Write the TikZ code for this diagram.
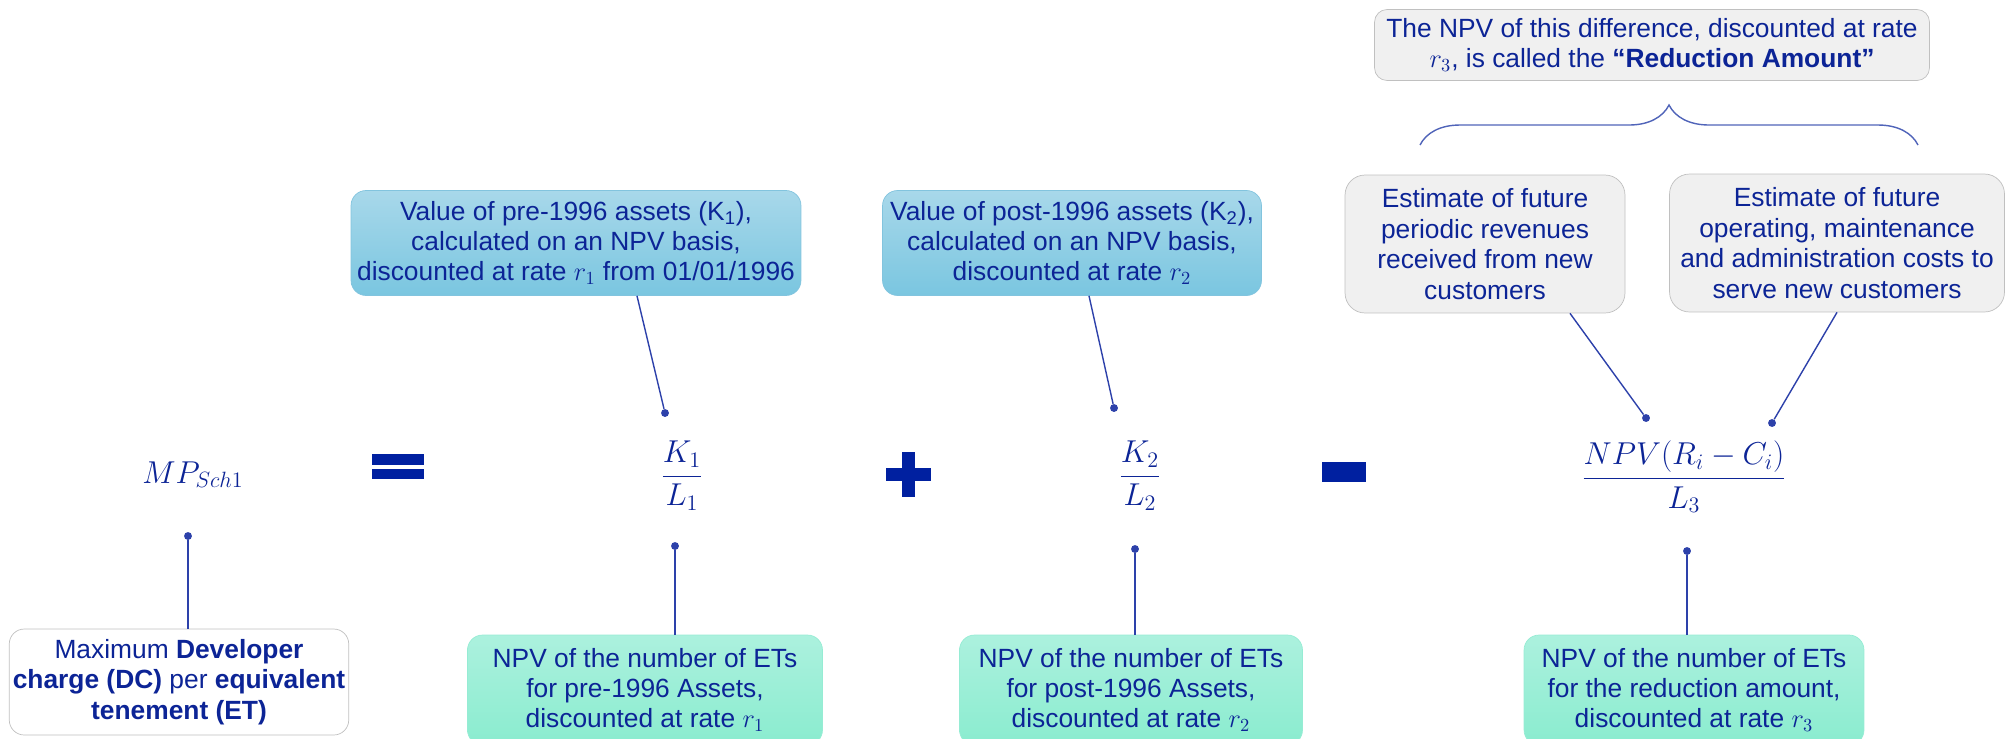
\RequirePackage{fix-cm}
\documentclass[tikz,border=0pt]{standalone}
\usepackage[no-math]{fontspec}
\setmainfont{Liberation Sans}
\usetikzlibrary{decorations.pathreplacing}

\begin{document}
\begin{tikzpicture}[x=0.02cm, y=-0.02cm]

\definecolor{ink}{RGB}{12,36,150}
\definecolor{signcol}{RGB}{0,32,160}
\definecolor{linkcol}{RGB}{45,65,170}
\definecolor{bracecol}{RGB}{80,100,185}
\definecolor{bluetop}{RGB}{168,216,234}
\definecolor{bluebot}{RGB}{122,198,224}
\definecolor{blueedge}{RGB}{130,196,222}
\definecolor{greentop}{RGB}{172,241,222}
\definecolor{greenbot}{RGB}{138,236,207}
\definecolor{greenedge}{RGB}{150,236,212}
\definecolor{greyfill}{RGB}{240,240,240}
\definecolor{greyedge}{RGB}{192,192,192}

\tikzset{box/.style={align=center, text=ink, inner sep=2pt, rounded corners=0.3cm, font=\fontsize{15}{17.3}\selectfont}}
\tikzset{bluebox/.style={box, draw=blueedge, top color=bluetop, bottom color=bluebot, minimum height=2.1cm}}
\tikzset{greenbox/.style={box, draw=greenedge, top color=greentop, bottom color=greenbot, minimum height=2.2cm}}
\tikzset{greybox/.style={box, draw=greyedge, fill=greyfill, minimum height=2.76cm, rounded corners=0.4cm}}
\tikzset{formula/.style={text=ink, inner sep=0pt, font=\fontsize{18}{22}\selectfont}}
\tikzset{dot/.style={circle, fill=linkcol, inner sep=0pt, minimum size=4.5pt}}
\tikzset{link/.style={draw=linkcol, line width=0.8pt}}
\tikzset{grouping/.style={draw=bracecol, line width=0.8pt, decorate, decoration={brace, amplitude=0.8cm}}}

\useasboundingbox (0,0) rectangle (2013,738);
\clip (0,0) rectangle (2013,738);

\node[greybox, minimum width=11.1cm, minimum height=1.42cm, rounded corners=0.25cm] (npvnote) at (1652,45) {The NPV of this difference, discounted at rate\\ $r_3$, is called the \textbf{“Reduction Amount”}};

\draw[grouping] (1420,145) -- (1918,145);

\node[greybox, minimum width=5.6cm] (rev) at (1485,244) {Estimate of future\\ periodic revenues\\ received from new\\ customers};
\node[greybox, minimum width=6.7cm] (cost) at (1837,243) {Estimate of future\\ operating, maintenance\\ and administration costs to\\ serve new customers};

\node[bluebox, minimum width=9cm] (val1) at (576,243) {Value of pre-1996 assets (K\textsubscript{1}),\\ calculated on an NPV basis,\\ discounted at rate $r_1$ from 01/01/1996};
\node[bluebox, minimum width=7.58cm] (val2) at (1072,243) {Value of post-1996 assets (K\textsubscript{2}),\\ calculated on an NPV basis,\\ discounted at rate $r_2$};

\node[formula, anchor=base] (mp) at (193,483) {$MP_{Sch1}$};
\node[formula] (frac1) at (682,476) {$\displaystyle\frac{K_1}{L_1}$};
\node[formula] (frac2) at (1140,476) {$\displaystyle\frac{K_2}{L_2}$};
\node[formula] (frac3) at (1684,477) {$\displaystyle\frac{NPV(R_i-C_i)}{L_3}$};

\fill[signcol] (372,454) rectangle (424,465);
\fill[signcol] (372,469) rectangle (424,479);

\fill[signcol] (886,468) rectangle (931,481);
\fill[signcol] (902,452) rectangle (915,497);

\fill[signcol] (1322,462) rectangle (1366,482);

\node[dot] (k1top) at (665,413) {};
\node[dot] (k2top) at (1114,408) {};
\node[dot] (revdot) at (1646,418) {};
\node[dot] (costdot) at (1772,423) {};

\draw[link] ([xshift=1.22cm]val1.south) -- (k1top);
\draw[link] ([xshift=0.34cm]val2.south) -- (k2top);
\draw[link] ([xshift=1.7cm]rev.south) -- (revdot);
\draw[link] (cost.south) -- (costdot);

\node[box, draw=greyedge, fill=white, minimum width=6.78cm, minimum height=2.12cm] (dc) at (179,682) {Maximum \textbf{Developer}\\ \textbf{charge (DC)} per \textbf{equivalent}\\ \textbf{tenement (ET)}};
\node[greenbox, minimum width=7.1cm] (et1) at (645,690) {NPV of the number of ETs\\ for pre-1996 Assets,\\ discounted at rate $r_1$};
\node[greenbox, minimum width=6.86cm] (et2) at (1131,690) {NPV of the number of ETs\\ for post-1996 Assets,\\ discounted at rate $r_2$};
\node[greenbox, minimum width=6.8cm] (et3) at (1694,690) {NPV of the number of ETs\\ for the reduction amount,\\ discounted at rate $r_3$};

\node[dot] (mpdot) at (188,536) {};
\node[dot] (k1bot) at (675,546) {};
\node[dot] (k2bot) at (1135,549) {};
\node[dot] (npvdot) at (1687,551) {};

\draw[link] (mpdot) -- (mpdot |- dc.north);
\draw[link] (k1bot) -- (k1bot |- et1.north);
\draw[link] (k2bot) -- (k2bot |- et2.north);
\draw[link] (npvdot) -- (npvdot |- et3.north);

\end{tikzpicture}
\end{document}
